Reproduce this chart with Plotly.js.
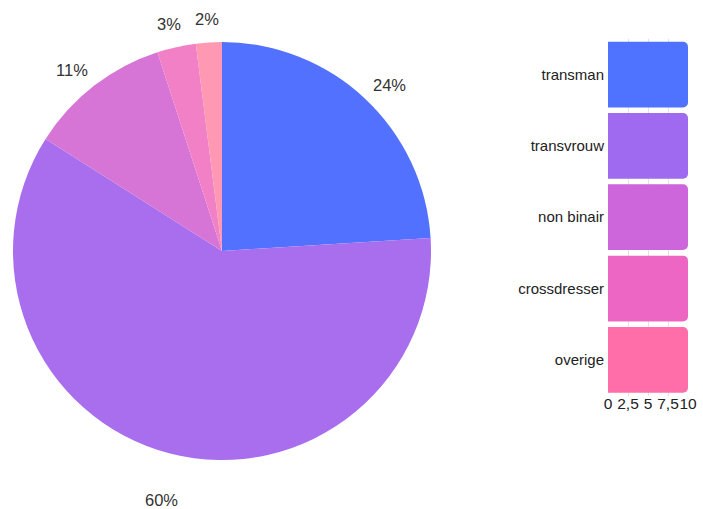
<!DOCTYPE html>
<html>
<head>
<meta charset="utf-8">
<script src="https://cdn.plot.ly/plotly-3.0.1.min.js"></script>
<style>html,body{margin:0;padding:0;background:#fff;}#chart{width:703px;height:509px;}</style>
</head>
<body>
<div id="chart"></div>
<script>
// Data
const categories = ["transman", "transvrouw", "non binair", "crossdresser", "overige"];
const shares = [24, 60, 11, 3, 2];
const barValues = [10, 10, 10, 10, 10];
const xTicks = [0, 2.5, 5, 7.5, 10];

// Styles
const pieColors = ["#5271ff", "#a86eee", "#d675d6", "#f280c6", "#ff98b2"];
const barColors = ["#4f73ff", "#a06af0", "#cc66da", "#ee66c4", "#ff6ea8"];
const FONT = "Liberation Sans, Arial, sans-serif";
const W = 703, H = 509;
const cx = 222, cy = 251, R = 209, labelR = 244.5, labelDrop = 12;

const total = shares.reduce((a, b) => a + b, 0);
const annotations = [];
let cum = 0;
shares.forEach((v, i) => {
  const mid = (cum + v / 2) / total * 2 * Math.PI;
  cum += v;
  const px = cx + labelR * Math.sin(mid);
  const py = cy - labelR * Math.cos(mid) + labelDrop;
  annotations.push({
    x: px / W, y: 1 - py / H, xref: "paper", yref: "paper",
    text: Math.round(v / total * 100) + "%", showarrow: false,
    xanchor: "center", yanchor: "middle",
    font: {family: FONT, size: 16.5, color: "#333"}
  });
});

const pie = {
  type: "pie",
  labels: categories,
  values: shares,
  sort: false,
  direction: "clockwise",
  rotation: 0,
  textinfo: "none",
  hoverinfo: "label+percent",
  marker: {colors: pieColors, line: {width: 0}},
  domain: {x: [(cx - R) / W, (cx + R) / W], y: [1 - (cy + R) / H, 1 - (cy - R) / H]},
  showlegend: false
};

const bar = {
  type: "bar",
  orientation: "h",
  y: categories,
  x: barValues,
  marker: {color: barColors, cornerradius: 5, line: {width: 0}},
  xaxis: "x", yaxis: "y",
  showlegend: false,
  hoverinfo: "y"
};

const layout = {
  width: W, height: H,
  margin: {l: 0, r: 0, t: 0, b: 0},
  paper_bgcolor: "#fff",
  plot_bgcolor: "#fff",
  separators: ",.",
  showlegend: false,
  bargap: 0.078,
  font: {family: FONT, size: 15, color: "#222"},
  xaxis: {
    domain: [608 / W, 688 / W],
    range: [0, 10],
    tickvals: xTicks,
    ticktext: xTicks.map(t => String(t).replace(".", ",")),
    tickangle: 0,
    showgrid: true, gridcolor: "#e3e3e3",
    zeroline: false, showline: false,
    ticks: "", fixedrange: true,
    ticklabelstandoff: -3,
    tickfont: {family: FONT, size: 15.5, color: "#222"}
  },
  yaxis: {
    domain: [1 - 395.5 / H, 1 - 38.9 / H],
    autorange: "reversed",
    showgrid: false, zeroline: false, showline: false,
    ticks: "", fixedrange: true,
    ticklabelstandoff: 3,
    tickfont: {family: FONT, size: 15, color: "#222"}
  },
  annotations: annotations
};

Plotly.newPlot("chart", [pie, bar], layout, {displayModeBar: false, staticPlot: true});
</script>
</body>
</html>
